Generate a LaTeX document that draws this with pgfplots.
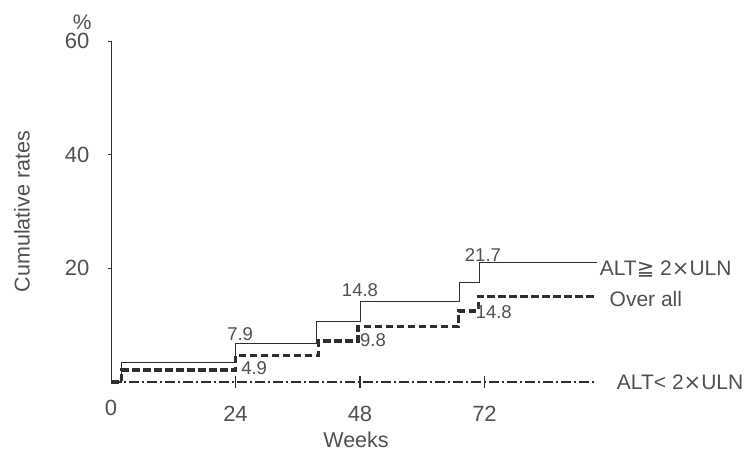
\documentclass[border=0pt]{standalone}
\usepackage{fontspec}
\setmainfont{Liberation Sans}
\newfontfamily\dejavu{DejaVu Sans}
\usepackage{pgfplots}
\pgfplotsset{compat=1.18}
\definecolor{ink}{HTML}{2E2E2E}
\definecolor{txt}{HTML}{505050}
\begin{document}
\begin{tikzpicture}
\useasboundingbox (0,0) rectangle (744pt,453pt);
\begin{axis}[
  at={(111pt,71pt)}, anchor=south west,
  scale only axis, width=498pt, height=341pt,
  xmin=0, xmax=96, ymin=0, ymax=60,
  clip=false,
  axis lines*=left,
  x axis line style={draw=none},
  y axis line style={draw=ink, line width=0.8pt},
  xtick={24,48,72}, ytick={20,40,60},
  extra x ticks={0},
  extra x tick style={major tick length=0pt},
  major tick length=12pt,
  x tick style={draw=ink, line width=1.2pt},
  y tick style={draw=ink, line width=0.6pt, /pgfplots/major tick length=3pt},
  xtick align=center, ytick align=outside,
  /pgf/number format/assume math mode=true,
  tick label style={font=\fontsize{22}{26}\selectfont, text=txt},
  yticklabel style={xshift=-6pt},
  xticklabel style={yshift=-15pt},
  xlabel={Weeks}, ylabel={Cumulative rates},
  label style={font=\fontsize{21.5}{26}\selectfont, text=txt},
  xlabel style={at={(axis description cs:0.492,-0.17)}, anchor=center, inner sep=0pt},
  ylabel style={at={(axis description cs:-0.179,0.5)}, anchor=center, rotate=0},
]
% ALT >= 2xULN
\addplot[const plot, draw=ink, line width=0.9pt] coordinates {
  (0,0) (2,3.4) (24,6.8) (39.7,10.6) (48,14.1) (67.2,17.6) (71.1,21.1) (93.6,21.1)};
% Over all
\addplot[const plot, draw=ink, line width=3.2pt, dash pattern=on 7.5pt off 3.5pt] coordinates {
  (0,0) (2,2.1) (24,4.6) (40,7.2) (47.6,9.7) (67,12.5) (70.8,15.1) (93.6,15.1)};
% ALT < 2xULN
\addplot[draw=ink, line width=2.6pt, dash pattern=on 10pt off 3pt on 2pt off 3pt] coordinates {
  (0,0) (93.6,0)};
\begin{scope}[every node/.style={font=\fontsize{18.5}{22}\selectfont, text=txt, inner sep=0pt}]
\node at (axis cs:24.9,8.4) {7.9};
\node at (axis cs:27.6,2.5) {4.9};
\node at (axis cs:48.0,16.1) {14.8};
\node at (axis cs:50.5,7.4) {9.8};
\node at (axis cs:71.7,22.3) {21.7};
\node[anchor=east] at (axis cs:77.3,12.3) {14.8};
\end{scope}
\begin{scope}[every node/.style={font=\fontsize{21}{25}\selectfont, text=txt, inner sep=0pt, anchor=west}]
\node at (axis cs:94.2,19.8) {ALT{\dejavu≧} 2{\dejavu×}ULN};
\node at (axis cs:96.1,14.6) {Over all};
\node at (axis cs:97.5,0) {ALT< 2{\dejavu×}ULN};
\node[anchor=center] at (axis description cs:-0.058,1.056) {\%};
\end{scope}
\end{axis}
\end{tikzpicture}
\end{document}
